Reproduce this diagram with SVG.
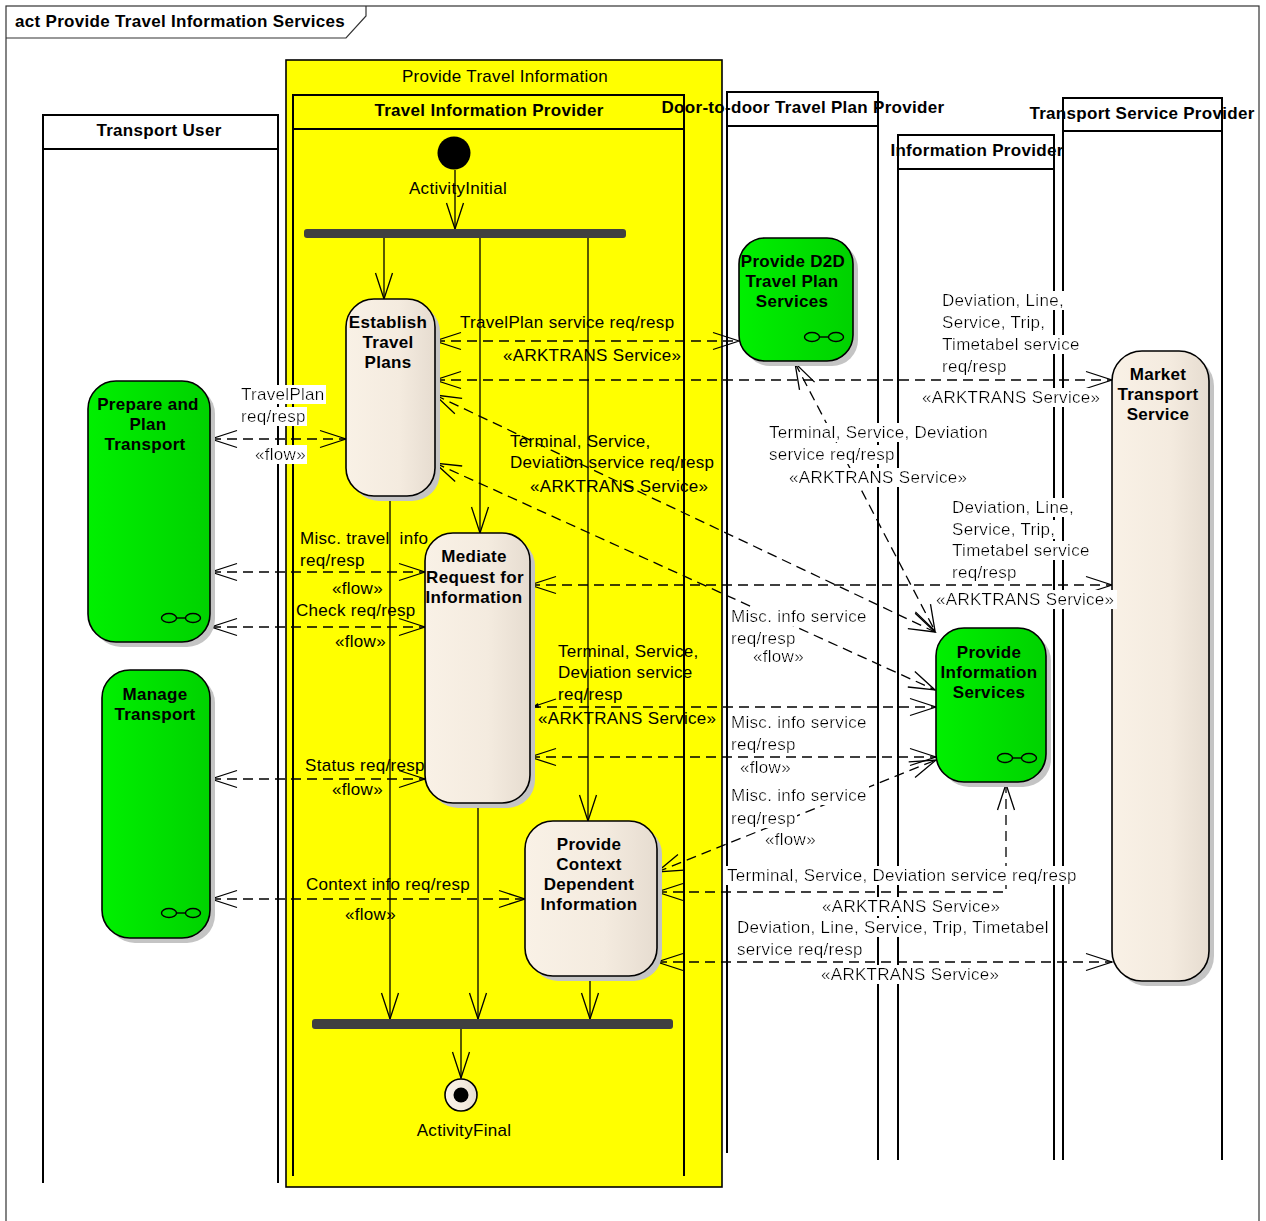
<svg xmlns="http://www.w3.org/2000/svg" width="1266" height="1221" viewBox="0 0 1266 1221">
  <style>
    .t { font-family: "Liberation Sans", Arial, sans-serif; font-size: 17px; fill: #000; letter-spacing: 0.3px; }
    .b { font-weight: bold; }
    .m { text-anchor: middle; }
    .wb { filter: url(#wbg); }
    .lane { fill: none; stroke: #000; stroke-width: 2; }
    .hdr { fill: #fff; stroke: #000; stroke-width: 2; }
    .shadow { fill: #c4c4c4; }
    .act { stroke: #000; stroke-width: 1.6; }
    .green { fill: url(#gGreen); }
    .beige { fill: url(#gBeige); }
    .bar { fill: #404040; }
    .ctl { fill: none; stroke: #000; stroke-width: 1.3; marker-end: url(#ah); }
    .flow { fill: none; stroke: #000; stroke-width: 1.3; stroke-dasharray: 10 6; marker-start: url(#ah); marker-end: url(#ah); }
    .flow1 { fill: none; stroke: #000; stroke-width: 1.3; stroke-dasharray: 10 6; marker-end: url(#ah); }
    .icon { fill: none; stroke: #000; stroke-width: 1.4; }
  </style>
  <defs>
    <linearGradient id="gGreen" x1="0" y1="0" x2="1" y2="0">
      <stop offset="0" stop-color="#00f000"/>
      <stop offset="1" stop-color="#00d200"/>
    </linearGradient>
    <linearGradient id="gBeige" x1="0" y1="0" x2="1" y2="0">
      <stop offset="0" stop-color="#f9f1e6"/>
      <stop offset="0.6" stop-color="#f4ebdf"/>
      <stop offset="1" stop-color="#e6dcd0"/>
    </linearGradient>
    <marker id="ah" viewBox="-28 -10 30 20" markerWidth="30" markerHeight="20" refX="0" refY="0" markerUnits="userSpaceOnUse" orient="auto-start-reverse">
      <path d="M-26,-8.5 L0,0 L-26,8.5" fill="none" stroke="#000" stroke-width="1.3" stroke-dasharray="none"/>
    </marker>
    <filter id="wbg" x="-0.01" y="0" width="1.02" height="1">
      <feFlood flood-color="#fff"/>
      <feComposite in="SourceGraphic" operator="over"/>
    </filter>
    <g id="rake">
      <ellipse cx="-12" cy="0" rx="7.5" ry="4.5"/>
      <ellipse cx="12" cy="0" rx="7.5" ry="4.5"/>
      <line x1="-4.5" y1="0" x2="4.5" y2="0"/>
    </g>
  </defs>

  <rect width="1266" height="1221" fill="#fff"/>

  <!-- diagram frame -->
  <g id="frame">
    <rect x="6" y="6" width="1253" height="1225" fill="none" stroke="#333" stroke-width="1.2"/>
    <polyline points="6,38 346,38 366,16 366,6" fill="none" stroke="#333" stroke-width="1.2"/>
    <text class="t b" x="15" y="27">act Provide Travel Information Services</text>
  </g>

  <!-- partitions -->
  <g id="partitions">
    <rect id="provide-travel-information" x="286" y="60" width="436" height="1127" fill="#ffff00" stroke="#000" stroke-width="1.6"/>
    <text class="t m" x="505" y="82">Provide Travel Information</text>

    <g id="lane-transport-user">
      <rect class="hdr" x="43" y="115" width="235" height="34"/>
      <line class="lane" x1="43" y1="149" x2="43" y2="1183"/>
      <line class="lane" x1="278" y1="149" x2="278" y2="1183"/>
      <text class="t b m" x="159" y="136">Transport User</text>
    </g>
    <g id="lane-travel-information-provider">
      <rect x="293" y="95" width="391" height="34" fill="#ffff00" stroke="#000" stroke-width="2"/>
      <line class="lane" x1="293" y1="129" x2="293" y2="1176"/>
      <line class="lane" x1="684" y1="129" x2="684" y2="1176"/>
      <text class="t b m" x="489" y="116">Travel Information Provider</text>
    </g>
    <g id="lane-door-to-door">
      <rect class="hdr" x="727" y="92" width="151" height="34"/>
      <line class="lane" x1="727" y1="126" x2="727" y2="1153"/>
      <line class="lane" x1="878" y1="126" x2="878" y2="1160"/>
    </g>
    <g id="lane-information-provider">
      <rect class="hdr" x="898" y="135" width="156" height="34"/>
      <line class="lane" x1="898" y1="169" x2="898" y2="1160"/>
      <line class="lane" x1="1054" y1="169" x2="1054" y2="1160"/>
    </g>
    <g id="lane-transport-service-provider">
      <rect class="hdr" x="1063" y="98" width="159" height="33"/>
      <line class="lane" x1="1063" y1="131" x2="1063" y2="1160"/>
      <line class="lane" x1="1222" y1="131" x2="1222" y2="1160"/>
    </g>
    <text class="t b m" x="803" y="113">Door-to-door Travel Plan Provider</text>
    <text class="t b m" x="977" y="156">Information Provider</text>
    <text class="t b m" x="1142" y="119">Transport Service Provider</text>
  </g>

  <!-- connectors -->
  <g id="connectors">
    <!-- control flow -->
    <line class="ctl" x1="455" y1="170" x2="455" y2="229"/>
    <line class="ctl" x1="384" y1="237" x2="384" y2="299"/>
    <line class="ctl" x1="480" y1="237" x2="480" y2="533"/>
    <line class="ctl" x1="588" y1="237" x2="588" y2="821"/>
    <line class="ctl" x1="390" y1="497" x2="390" y2="1019"/>
    <line class="ctl" x1="478" y1="803" x2="478" y2="1019"/>
    <line class="ctl" x1="590" y1="976" x2="590" y2="1019"/>
    <line class="ctl" x1="461" y1="1028" x2="461" y2="1078"/>

    <!-- object / service flows -->
    <line class="flow" x1="211" y1="439" x2="346" y2="439"/>
    <line class="flow" x1="435" y1="341" x2="739" y2="341"/>
    <line class="flow" x1="435" y1="380" x2="1112" y2="380"/>
    <line class="flow" x1="435" y1="395" x2="935" y2="632"/>
    <line class="flow" x1="435" y1="463" x2="935" y2="690"/>
    <line class="flow" x1="795" y1="363" x2="935" y2="631"/>
    <line class="flow" x1="530" y1="585" x2="1112" y2="585"/>
    <line class="flow1" x1="531" y1="707" x2="936" y2="707"/>
    <line x1="556" y1="699" x2="532" y2="707" stroke="#000" stroke-width="1.3"/>
    <path d="M532,707 L538,703 L539,708 Z" fill="#000"/>
    <line class="flow" x1="530" y1="757" x2="936" y2="757"/>
    <line class="flow" x1="657" y1="872" x2="936" y2="760"/>
    <polyline class="flow" points="657,892 1006,892 1006,784"/>
    <line class="flow" x1="657" y1="962" x2="1112" y2="962"/>
    <line class="flow" x1="211" y1="572" x2="425" y2="572"/>
    <line class="flow" x1="211" y1="627" x2="425" y2="627"/>
    <line class="flow" x1="211" y1="779" x2="425" y2="779"/>
    <line class="flow" x1="211" y1="899" x2="525" y2="899"/>
  </g>

  <!-- nodes -->
  <g id="activity-initial">
    <circle cx="454" cy="153" r="16.5" fill="#000"/>
    <text class="t m" x="458" y="194">ActivityInitial</text>
  </g>
  <g id="fork">
    <rect class="bar" x="304" y="229" width="322" height="9" rx="3"/>
  </g>
  <g id="join">
    <rect class="bar" x="312" y="1019" width="361" height="10" rx="3"/>
  </g>
  <g id="activity-final">
    <circle cx="461" cy="1095" r="16" fill="url(#gBeige)" stroke="#000" stroke-width="1.6"/>
    <circle cx="461" cy="1095" r="7.5" fill="#000"/>
    <text class="t m" x="464" y="1136">ActivityFinal</text>
  </g>

  <g id="establish-travel-plans">
    <rect class="shadow" x="351" y="304" width="89" height="197" rx="28"/>
    <rect class="act beige" x="346" y="299" width="89" height="197" rx="28"/>
    <text class="t b m" x="388" y="328">Establish</text>
    <text class="t b m" x="388" y="348">Travel</text>
    <text class="t b m" x="388" y="368">Plans</text>
  </g>

  <g id="prepare-and-plan-transport">
    <rect class="shadow" x="93" y="386" width="122" height="261" rx="28"/>
    <rect class="act green" x="88" y="381" width="122" height="261" rx="28"/>
    <text class="t b m" x="148" y="410">Prepare and</text>
    <text class="t b m" x="148" y="430">Plan</text>
    <text class="t b m" x="145" y="450">Transport</text>
    <use href="#rake" class="icon" x="181" y="618"/>
  </g>

  <g id="manage-transport">
    <rect class="shadow" x="107" y="675" width="108" height="268" rx="28"/>
    <rect class="act green" x="102" y="670" width="108" height="268" rx="28"/>
    <text class="t b m" x="155" y="700">Manage</text>
    <text class="t b m" x="155" y="720">Transport</text>
    <use href="#rake" class="icon" x="181" y="913"/>
  </g>

  <g id="provide-d2d-travel-plan-services">
    <rect class="shadow" x="744" y="243" width="114" height="123" rx="26"/>
    <rect class="act green" x="739" y="238" width="114" height="123" rx="26"/>
    <text class="t b m" x="793" y="267">Provide D2D</text>
    <text class="t b m" x="792" y="287">Travel Plan</text>
    <text class="t b m" x="792" y="307">Services</text>
    <use href="#rake" class="icon" x="824" y="337"/>
  </g>

  <g id="mediate-request-for-information">
    <rect class="shadow" x="430" y="538" width="105" height="270" rx="28"/>
    <rect class="act beige" x="425" y="533" width="105" height="270" rx="28"/>
    <text class="t b m" x="474" y="562">Mediate</text>
    <text class="t b m" x="475" y="583">Request for</text>
    <text class="t b m" x="474" y="603">Information</text>
  </g>

  <g id="provide-context-dependent-information">
    <rect class="shadow" x="530" y="826" width="132" height="155" rx="28"/>
    <rect class="act beige" x="525" y="821" width="132" height="155" rx="28"/>
    <text class="t b m" x="589" y="850">Provide</text>
    <text class="t b m" x="589" y="870">Context</text>
    <text class="t b m" x="589" y="890">Dependent</text>
    <text class="t b m" x="589" y="910">Information</text>
  </g>

  <g id="provide-information-services">
    <rect class="shadow" x="941" y="633" width="110" height="154" rx="28"/>
    <rect class="act green" x="936" y="628" width="110" height="154" rx="28"/>
    <text class="t b m" x="989" y="658">Provide</text>
    <text class="t b m" x="989" y="678">Information</text>
    <text class="t b m" x="989" y="698">Services</text>
    <use href="#rake" class="icon" x="1017" y="758"/>
  </g>

  <g id="market-transport-service">
    <rect class="shadow" x="1117" y="356" width="97" height="630" rx="30"/>
    <rect class="act beige" x="1112" y="351" width="97" height="630" rx="30"/>
    <text class="t b m" x="1158" y="380">Market</text>
    <text class="t b m" x="1158" y="400">Transport</text>
    <text class="t b m" x="1158" y="420">Service</text>
  </g>

  <!-- connector labels -->
  <g id="labels">
    <text class="t wb" x="241" y="400">TravelPlan</text>
    <text class="t wb" x="241" y="422">req/resp</text>
    <text class="t wb" x="255" y="460">«flow»</text>

    <text class="t" x="460" y="328">TravelPlan service req/resp</text>
    <text class="t" x="503" y="361">«ARKTRANS Service»</text>

    <text class="t wb" x="942" y="306">Deviation, Line,</text>
    <text class="t wb" x="942" y="328">Service, Trip,</text>
    <text class="t wb" x="942" y="350">Timetabel service</text>
    <text class="t wb" x="942" y="372">req/resp</text>
    <text class="t wb" x="922" y="403">«ARKTRANS Service»</text>

    <text class="t" x="510" y="447">Terminal, Service,</text>
    <text class="t" x="510" y="468">Deviation service req/resp</text>
    <text class="t" x="530" y="492">«ARKTRANS Service»</text>

    <text class="t wb" x="769" y="438">Terminal, Service, Deviation</text>
    <text class="t wb" x="769" y="460">service req/resp</text>
    <text class="t wb" x="789" y="483">«ARKTRANS Service»</text>

    <text class="t wb" x="952" y="513">Deviation, Line,</text>
    <text class="t wb" x="952" y="535">Service, Trip,</text>
    <text class="t wb" x="952" y="556">Timetabel service</text>
    <text class="t wb" x="952" y="578">req/resp</text>
    <text class="t wb" x="936" y="605">«ARKTRANS Service»</text>

    <text class="t" x="300" y="544" xml:space="preserve">Misc. travel  info</text>
    <text class="t" x="300" y="566">req/resp</text>
    <text class="t" x="332" y="594">«flow»</text>

    <text class="t" x="296" y="616">Check req/resp</text>
    <text class="t" x="335" y="647">«flow»</text>

    <text class="t wb" x="731" y="622">Misc. info service</text>
    <text class="t wb" x="731" y="644">req/resp</text>
    <text class="t wb" x="753" y="662">«flow»</text>

    <text class="t" x="558" y="657">Terminal, Service,</text>
    <text class="t" x="558" y="678">Deviation service</text>
    <text class="t" x="558" y="700">req/resp</text>
    <text class="t" x="538" y="724">«ARKTRANS Service»</text>

    <text class="t wb" x="731" y="728">Misc. info service</text>
    <text class="t wb" x="731" y="750">req/resp</text>
    <text class="t wb" x="740" y="773">«flow»</text>

    <text class="t" x="305" y="771">Status req/resp</text>
    <text class="t" x="332" y="795">«flow»</text>

    <text class="t wb" x="731" y="801">Misc. info service</text>
    <text class="t wb" x="731" y="824">req/resp</text>
    <text class="t wb" x="765" y="845">«flow»</text>

    <text class="t wb" x="727" y="881">Terminal, Service, Deviation service req/resp</text>
    <text class="t wb" x="822" y="912">«ARKTRANS Service»</text>

    <text class="t" x="306" y="890">Context info req/resp</text>
    <text class="t" x="345" y="920">«flow»</text>

    <text class="t wb" x="737" y="933">Deviation, Line, Service, Trip, Timetabel</text>
    <text class="t wb" x="737" y="955">service req/resp</text>
    <text class="t wb" x="821" y="980">«ARKTRANS Service»</text>
  </g>
</svg>
